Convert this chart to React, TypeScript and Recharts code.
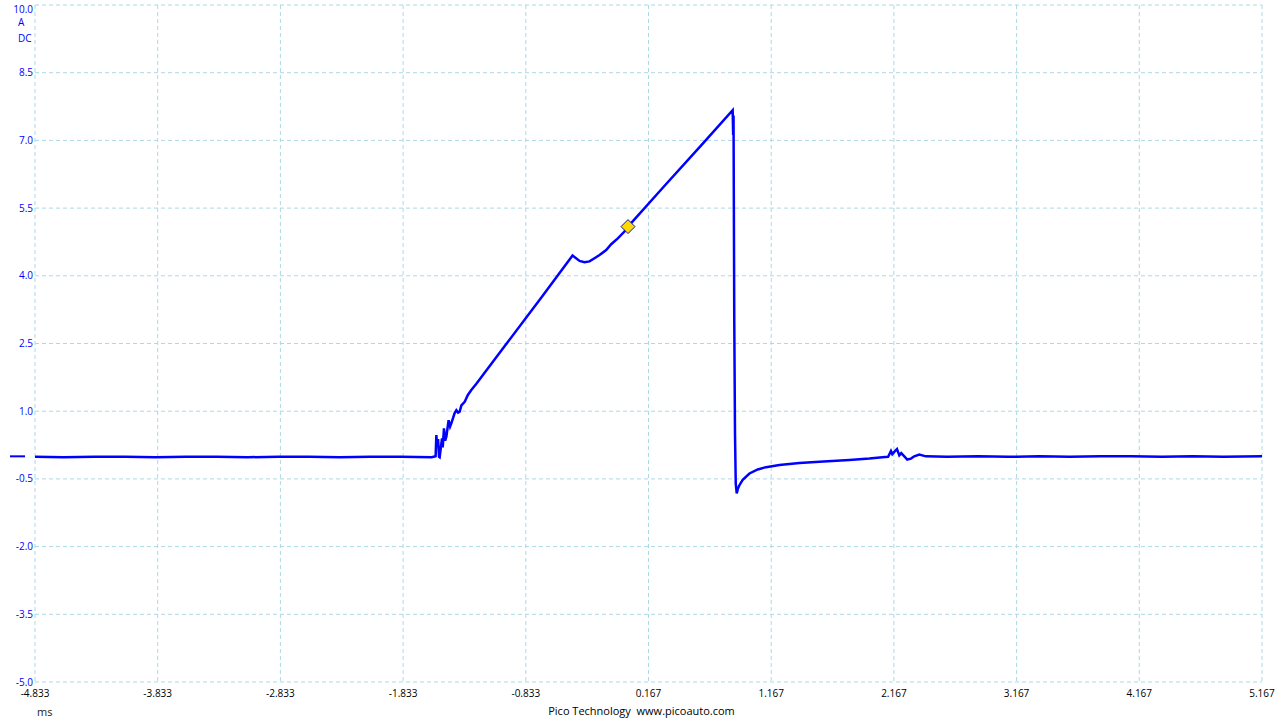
import React from "react";
import {
  LineChart,
  Line,
  XAxis,
  YAxis,
  CartesianGrid,
  ReferenceDot,
  ReferenceLine,
} from "recharts";

const timeMs = [
  -4.833, -4.6, -4.35, -4.1, -3.85, -3.6, -3.35, -3.1, -2.85, -2.6, -2.35, -2.1, -1.85, -1.6, -1.584,
  -1.568, -1.562, -1.556, -1.548, -1.54, -1.535, -1.516, -1.51, -1.5, -1.49, -1.48, -1.462, -1.45,
  -1.44, -1.427, -1.413, -1.399, -1.385, -1.372, -1.358, -1.331, -1.305, -1.277, -1.236, -1.0, -0.7,
  -0.452, -0.395, -0.354, -0.314, -0.273, -0.232, -0.178, -0.137, -0.083, -0.029, 0.0, 0.3, 0.6,
  0.853, 0.857, 0.86, 0.866, 0.872, 0.878, 0.886, 0.895, 0.908, 0.935, 0.99, 1.057, 1.125, 1.234,
  1.397, 1.56, 1.804, 1.967, 2.073, 2.12, 2.143, 2.154, 2.17, 2.192, 2.211, 2.227, 2.252, 2.276,
  2.306, 2.333, 2.374, 2.428, 2.6, 2.85, 3.1, 3.35, 3.6, 3.85, 4.1, 4.35, 4.6, 4.85, 5.167,
];

const currentA = [
  -0.01, -0.02, -0.01, -0.01, -0.02, -0.01, -0.01, -0.02, -0.01, -0.01, -0.02, -0.01, -0.01, -0.02, -0.01,
  0.0, 0.47, 0.25, 0.38, -0.01, -0.02, 0.4, 0.2, 0.62, 0.35, 0.44, 0.8, 0.66,
  0.73, 0.84, 0.96, 1.02, 0.97, 0.99, 1.13, 1.21, 1.36, 1.47, 1.61, 2.46, 3.54,
  4.45, 4.33, 4.3, 4.32, 4.39, 4.46, 4.57, 4.7, 4.83, 4.98, 5.09, 6.0, 6.9,
  7.67, 7.12, 7.55, 3.0, 0.5, -0.6, -0.82, -0.72, -0.64, -0.52, -0.38, -0.29, -0.24, -0.19,
  -0.15, -0.12, -0.08, -0.05, -0.02, -0.01, 0.12, 0.05, 0.1, 0.16, 0.02, 0.07, 0.0, -0.07,
  -0.05, 0.0, 0.04, 0.0, -0.01, 0.0, -0.01, 0.0, -0.01, 0.0, 0.0, -0.01, 0.0, -0.01, 0.0,
];

const xTicks = [-4.833, -3.833, -2.833, -1.833, -0.833, 0.167, 1.167, 2.167, 3.167, 4.167, 5.167];
const yTicks = [-5, -3.5, -2, -0.5, 1, 2.5, 4, 5.5, 7, 8.5, 10];

const trigger = { t: 0.0, a: 5.09 };

const data = timeMs.map((t, i) => ({ t, a: currentA[i] }));

const font = "'Open Sans', 'DejaVu Sans', sans-serif";
const blue = "#0000ff";

const Diamond = (props: any) => {
  const { cx, cy } = props;
  const r = 7;
  return (
    <polygon
      points={`${cx},${cy - r} ${cx + r},${cy} ${cx},${cy + r} ${cx - r},${cy}`}
      fill="#ffd800"
      stroke="#1010c0"
      strokeWidth={1}
    />
  );
};

const GroundMark = (props: any) => {
  const { x1, y1 } = props;
  return <line x1={x1 - 25} x2={x1 - 10} y1={y1} y2={y1} stroke={blue} strokeWidth={2} />;
};

const YTick = (props: any) => {
  const { x, y, payload } = props;
  // keep the top label inside the picture
  const yy = Math.max(y, 9);
  return (
    <text x={x} y={yy} dy="0.355em" textAnchor="end" fontSize={10} fill={blue} fontFamily={font}>
      {Number(payload.value).toFixed(1)}
    </text>
  );
};

export default function App() {
  return (
    <div style={{ position: "absolute", left: 0, top: 0, width: 1280, height: 720, background: "#fff", fontFamily: font }}>
      <LineChart width={1280} height={720} data={data} margin={{ top: 5, right: 18, bottom: 0, left: 0 }}>
        <CartesianGrid stroke="#add8e6" strokeDasharray="4 3" />
        <XAxis
          dataKey="t"
          type="number"
          domain={[-4.833, 5.167]}
          ticks={xTicks}
          tickFormatter={(v: number) => v.toFixed(3)}
          axisLine={false}
          tickLine={false}
          tickSize={0}
          tickMargin={8}
          height={38}
          allowDataOverflow
          tick={{ fontSize: 10, fill: "#000", fontFamily: font }}
        />
        <YAxis
          type="number"
          domain={[-5, 10]}
          ticks={yTicks}
          axisLine={false}
          tickLine={false}
          tickSize={0}
          tickMargin={2}
          width={35}
          allowDataOverflow
          tick={<YTick />}
        />
        <ReferenceLine y={0} shape={GroundMark} />
        <Line
          dataKey="a"
          type="linear"
          stroke={blue}
          strokeWidth={2.5}
          dot={false}
          isAnimationActive={false}
        />
        <ReferenceDot x={trigger.t} y={trigger.a} shape={Diamond} />
      </LineChart>
      <div style={{ position: "absolute", left: 18, top: 15, fontSize: 10, color: blue }}>A</div>
      <div style={{ position: "absolute", left: 18, top: 31, fontSize: 10, color: blue }}>DC</div>
      <div style={{ position: "absolute", left: 37, top: 704, fontSize: 11, color: "#222" }}>ms</div>
      <div style={{ position: "absolute", left: 0, width: 1283, top: 703, fontSize: 11, color: "#000", textAlign: "center", whiteSpace: "pre" }}>
        {"Pico Technology  www.picoauto.com"}
      </div>
    </div>
  );
}
